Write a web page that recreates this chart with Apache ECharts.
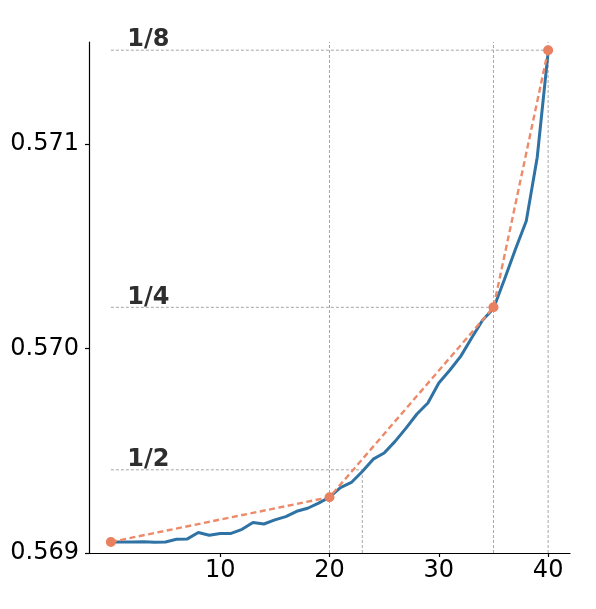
<!DOCTYPE html>
<html>
<head>
<meta charset="utf-8">
<script src="https://cdn.jsdelivr.net/npm/echarts@6/dist/echarts.min.js"></script>
<style>
  html, body { margin: 0; padding: 0; background: #fff; }
  #chart { width: 596px; height: 609px; }
</style>
</head>
<body>
<div id="chart"></div>
<script>
// blue curve, one value per step 0..40
const steps = Array.from({ length: 41 }, (_, i) => i);
const curve = [
  0.569054, 0.569054, 0.569054, 0.569055, 0.569052, 0.569054, 0.569067, 0.569069, 0.569100, 0.569087,
  0.569095, 0.569096, 0.569116, 0.569149, 0.569142, 0.569162, 0.569178, 0.569204, 0.569219, 0.569244,
  0.569273, 0.569320, 0.569345, 0.569399, 0.569459, 0.569489, 0.569546, 0.569611, 0.569680, 0.569734,
  0.569832, 0.569894, 0.569962, 0.570052, 0.570139, 0.570196, 0.570338, 0.570485, 0.570624, 0.570935,
  0.571450
];

// orange knots joined by the dashed line
const knotX = [0, 20, 35, 40];
const knotY = [0.569054, 0.569273, 0.570202, 0.571460];

// labelled horizontal guides
const levelNames = ['1/8', '1/4', '1/2'];
const levelY = [0.571460, 0.570202, 0.569407];
const levelEndX = [40, 35, 23];

// vertical guides
const guideX = [20, 35, 40, 23];
const guideTop = [0.5715, 0.5715, 0.5715, 0.569407];

const yTicks = [0.569, 0.570, 0.571];
const xTicks = [10, 20, 30, 40];

const Y_MIN = 0.569, Y_MAX = 0.5715;
const FONT = 'DejaVu Sans';
const GUIDE = { color: '#a6a6a6', width: 1, type: [3, 2] };

const chart = echarts.init(document.getElementById('chart'));

const guideSeries = [];
levelY.forEach((v, i) => {
  guideSeries.push({
    type: 'line', silent: true, symbol: 'none', z: 1,
    lineStyle: GUIDE,
    data: [[0, v], [levelEndX[i], v]],
  });
});
guideX.forEach((x, i) => {
  guideSeries.push({
    type: 'line', silent: true, symbol: 'none', z: 1,
    lineStyle: GUIDE,
    data: [[x, Y_MIN], [x, guideTop[i]]],
  });
});

chart.setOption({
  animation: false,
  grid: { left: 89, right: 26, top: 42, bottom: 56 },
  xAxis: {
    type: 'value', min: -2, max: 42,
    splitLine: { show: false },
    axisLine: { onZero: false, lineStyle: { color: '#000', width: 1.2 } },
    axisTick: { show: true, length: 4, customValues: xTicks, lineStyle: { color: '#000', width: 1.2 } },
    axisLabel: { customValues: xTicks, color: '#000', fontSize: 24, fontFamily: FONT, margin: 6 },
  },
  yAxis: {
    type: 'value', min: Y_MIN, max: Y_MAX,
    splitLine: { show: false },
    axisLine: { show: true, onZero: false, lineStyle: { color: '#000', width: 1.2 } },
    axisTick: { show: true, length: 4, customValues: yTicks, lineStyle: { color: '#000', width: 1.2 } },
    axisLabel: {
      customValues: yTicks, color: '#000', fontSize: 24, fontFamily: FONT, margin: 10,
      formatter: v => v.toFixed(3),
    },
  },
  series: [
    ...guideSeries,
    {
      type: 'line', symbol: 'none', z: 3,
      lineStyle: { color: '#2f72a4', width: 3 },
      data: steps.map((x, i) => [x, curve[i]]),
    },
    {
      type: 'line', symbol: 'circle', symbolSize: 10, z: 4,
      itemStyle: { color: '#e9805f' },
      lineStyle: { color: '#ec8a6a', width: 2.4, type: [6, 3.5] },
      data: knotX.map((x, i) => [x, knotY[i]]),
    },
    {
      type: 'scatter', symbolSize: 0, silent: true, z: 5,
      itemStyle: { opacity: 1 },
      label: {
        show: true, position: [0, 0], align: 'left', verticalAlign: 'bottom',
        offset: [0, 2],
        formatter: p => levelNames[p.dataIndex],
        color: '#2e2e2e', fontSize: 24, fontWeight: 'bold', fontFamily: FONT,
      },
      data: levelY.map(v => [1.5, v]),
    },
  ],
});
</script>
</body>
</html>
